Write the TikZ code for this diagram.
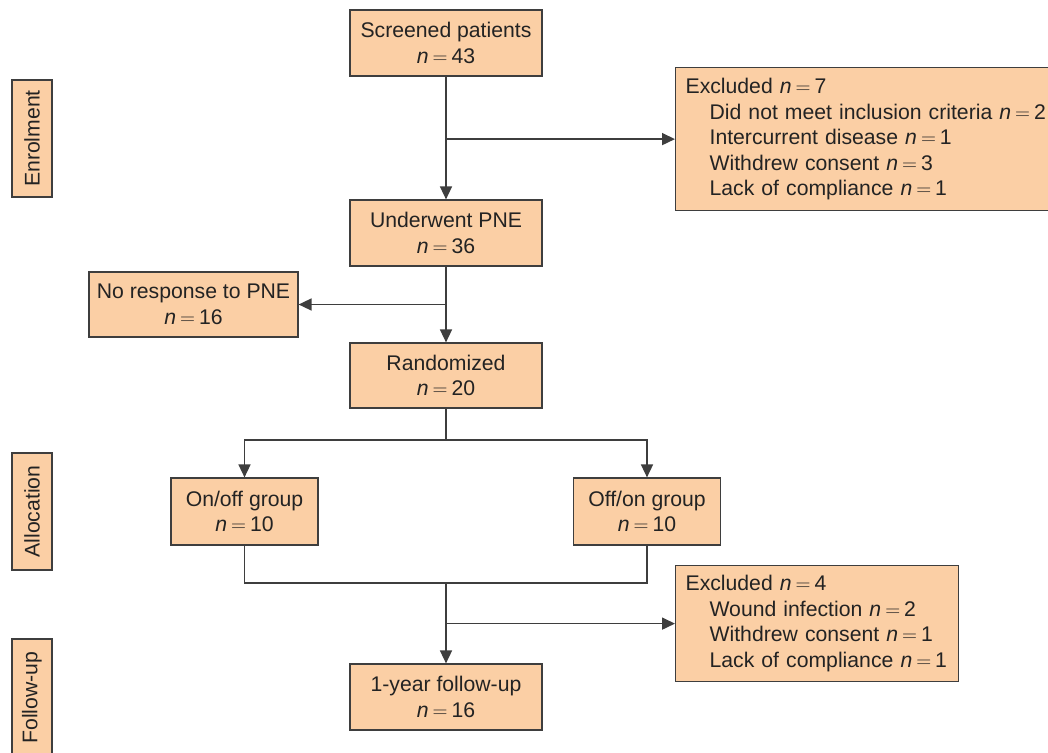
\documentclass[tikz,border=0pt]{standalone}
\usepackage{fontspec}
\setmainfont{Liberation Sans}
\usetikzlibrary{arrows.meta}
\definecolor{peach}{RGB}{251,207,165}
\definecolor{edge}{RGB}{62,62,62}
\definecolor{ink}{RGB}{35,35,35}
\newcommand\fs{\fontsize{21.2}{25.5}\selectfont}
\newcommand\nn[1]{\textit{n}\hspace{4pt}$=$\hspace{4pt}#1}
\newcommand\ind{\hspace*{24pt}}
\tikzset{
	box/.style={draw=edge, fill=peach, text=ink, line width=1.2pt, align=center, inner sep=0pt, minimum width=192pt, minimum height=66pt, font=\fs},
	exbox/.style={box, align=left, inner xsep=10pt, anchor=north west},
	side/.style={box, rotate=90, minimum width=117pt, minimum height=40pt},
	link/.style={draw=edge, line width=1.6pt}
}
\begin{document}
\begin{tikzpicture}[x=1pt, y=-1pt, >={Triangle[length=13pt,width=12pt]}]
	\useasboundingbox (0,0) rectangle (1048,752);
	\def\xm{446} \def\xl{244.5} \def\xr{647}
	% main column
	\node[box] (scr) at (\xm,43) {Screened patients\\\nn{43}};
	\node[box] (pne) at (\xm,233) {Underwent PNE\\\nn{36}};
	\node[box, minimum height=65pt] (ran) at (\xm,375.5) {Randomized\\\nn{20}};
	\node[box] (fup) at (\xm,697) {1-year follow-up\\\nn{16}};
	\node[box, minimum width=209pt, minimum height=65pt] (nor) at (193.5,304.5) {No response to PNE\\\nn{16}};
	\node[box, minimum width=147pt, minimum height=67pt] (onf) at (\xl,511.5) {On/off group\\\nn{10}};
	\node[box, minimum width=147pt, minimum height=67pt] (ofn) at (\xr,511.5) {Off/on group\\\nn{10}};
	% exclusions
	\node[exbox, text width=380pt, minimum height=143pt] (exa) at (675,67) {Excluded \nn{7}\\
		\ind Did not meet inclusion criteria \nn{2}\\
		\ind Intercurrent disease \nn{1}\\
		\ind Withdrew consent \nn{3}\\
		\ind Lack of compliance \nn{1}};
	\node[exbox, text width=263pt, minimum height=116pt] (exb) at (675,565) {Excluded \nn{4}\\
		\ind Wound infection \nn{2}\\
		\ind Withdrew consent \nn{1}\\
		\ind Lack of compliance \nn{1}};
	% stages
	\node[side] (enr) at (32,138.5) {Enrolment};
	\node[side] (all) at (32,511.5) {Allocation};
	\node[side] (fol) at (32,697.5) {Follow-up};
	% connectors
	\coordinate (split) at (\xm,440);
	\coordinate (join) at (\xm,583);
	\draw[link,->] (scr) -- (pne);
	\draw[link,->] (scr.south |- exa.west) -- (exa.west);
	\draw[link,->] (pne) -- (ran);
	\draw[link,->] (pne.south |- nor.east) -- (nor.east);
	\draw[link] (ran) -- (split);
	\foreach \g in {onf,ofn} \draw[link,->] (split) -| (\g);
	\foreach \g in {onf,ofn} \draw[link] (\g) |- (join);
	\draw[link,->] (join) -- (fup);
	\draw[link,->] (join |- exb.west) -- (exb.west);
\end{tikzpicture}
\end{document}
